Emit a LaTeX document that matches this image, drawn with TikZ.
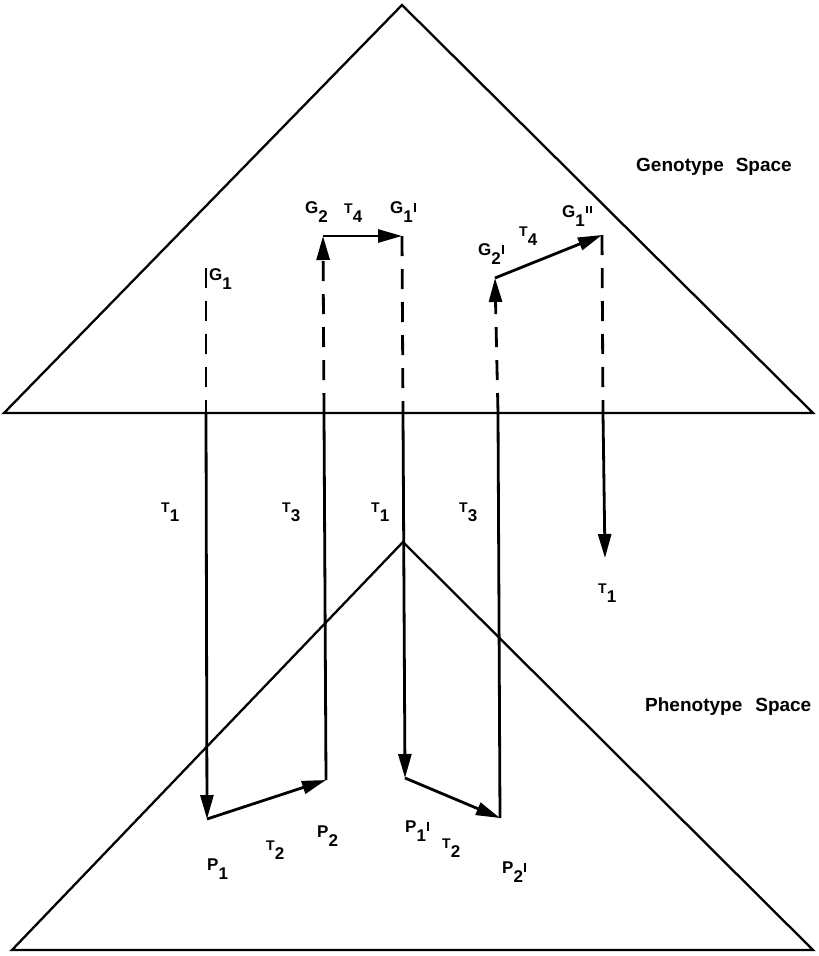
\documentclass[tikz,border=0pt]{standalone}
\usepackage{fontspec}
\newfontfamily\lf{Liberation Sans}
\usetikzlibrary{arrows.meta}
\newcommand\gsub[2]{#1\raisebox{-9pt}{#2}}
\newcommand\tsub[1]{{\fontsize{14}{14}\selectfont T}\raisebox{-9pt}{#1}}
\newcommand\pr{\hspace{1.5pt}\raisebox{1pt}{\rule{2pt}{9pt}}}
\newcommand\ppr{\hspace{1.5pt}\raisebox{4pt}{\rule{1.8pt}{7pt}}\hspace{2pt}\raisebox{4pt}{\rule{1.8pt}{7pt}}}
\begin{document}
\begin{tikzpicture}[x=1pt,y=-1pt,
  tri/.style={line width=2.3pt, line join=miter},
  solidln/.style={line width=2.8pt},
  arr/.style={line width=2.8pt, -{Triangle[length=24pt,width=13pt]}},
  dsh/.style={line width=2.8pt, dash pattern=on 20pt off 13pt},
  lab/.style={font=\lf\bfseries\fontsize{17}{17}\selectfont, inner sep=0pt, anchor=base west},
  spc/.style={font=\lf\bfseries\fontsize{19}{19}\selectfont, inner sep=0pt, anchor=base west}]
\useasboundingbox (0,0) rectangle (819,956);
% triangles
\coordinate (tA) at (402,5);
\coordinate (tL) at (4,413);
\coordinate (tR) at (813,413);
\coordinate (bA) at (403,542);
\coordinate (bL) at (12,950);
\coordinate (bR) at (813,950);
\draw[tri] (tL) -- (tA) -- (tR) -- cycle;
\draw[tri] (bL) -- (bA) -- (bR) -- cycle;
% points
\coordinate (G1) at (206,268);
\coordinate (X1) at (206,413);
\coordinate (P1) at (207,819);
\coordinate (P2) at (326,780);
\coordinate (X2) at (324,413);
\coordinate (G2) at (323,236);
\coordinate (G1p) at (402,236);
\coordinate (X3) at (403,413);
\coordinate (P1p) at (405,778);
\coordinate (P2p) at (500,818);
\coordinate (X4) at (498,413);
\coordinate (G2p) at (495,278);
\coordinate (G1pp) at (602,235);
\coordinate (X5) at (603,413);
\coordinate (T1e) at (605,558);
% connectors
\draw[dsh] (G1) -- (X1);
\draw[arr] (X1) -- (P1);
\draw[arr] (P1) -- (P2);
\draw[solidln] (P2) -- (X2);
\draw[dsh,arr] (X2) -- (G2);
\draw[arr] (G2) -- (G1p);
\draw[dsh] (G1p) -- (X3);
\draw[arr] (X3) -- (P1p);
\draw[arr] (P1p) -- (P2p);
\draw[solidln] (P2p) -- (X4);
\draw[dsh,arr] (X4) -- (G2p);
\draw[arr] (G2p) -- (G1pp);
\draw[dsh] (G1pp) -- (X5);
\draw[arr] (X5) -- (T1e);
% labels
\node[lab] (lG1) at (209,280) {\gsub{G}{1}};
\node[lab] (lG2) at (305,213) {\gsub{G}{2}};
\node[lab] (lT4a) at (344,213) {\tsub{4}};
\node[lab] (lG1p) at (390,213) {\gsub{G}{1}\pr};
\node[lab] (lG2p) at (478,255) {\gsub{G}{2}\pr};
\node[lab] (lT4b) at (519,236) {\tsub{4}};
\node[lab] (lG1pp) at (562,217) {\gsub{G}{1}\ppr};
\node[spc] (gs) at (636,171) {Genotype\hspace{12pt}Space};
\node[lab] (lT1a) at (161,512) {\tsub{1}};
\node[lab] (lT3a) at (282,512) {\tsub{3}};
\node[lab] (lT1b) at (371,512) {\tsub{1}};
\node[lab] (lT3b) at (459,512) {\tsub{3}};
\node[lab] (lT1c) at (598,593) {\tsub{1}};
\node[spc] (ps) at (645,711) {Phenotype\hspace{13pt}Space};
\node[lab] (lP1) at (207,870) {\gsub{P}{1}};
\node[lab] (lT2a) at (266,850) {\tsub{2}};
\node[lab] (lP2) at (317,837) {\gsub{P}{2}};
\node[lab] (lP1p) at (405,832) {\gsub{P}{1}\pr};
\node[lab] (lT2b) at (442,848) {\tsub{2}};
\node[lab] (lP2p) at (502,873) {\gsub{P}{2}\pr};
\end{tikzpicture}
\end{document}
